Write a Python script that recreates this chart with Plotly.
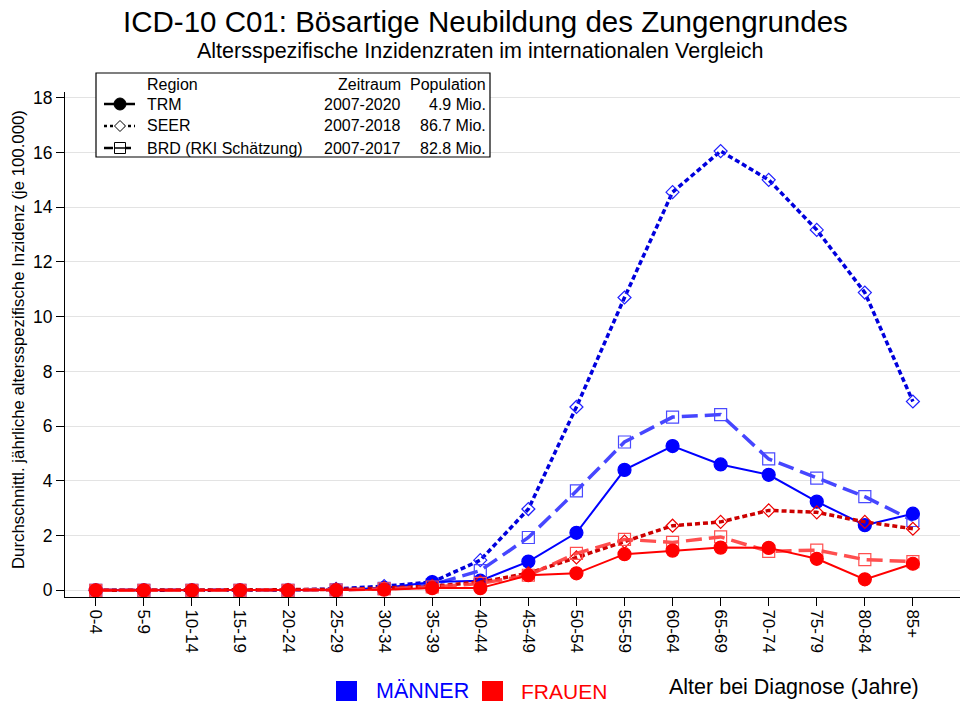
import plotly.graph_objects as go

categories = ["0-4", "5-9", "10-14", "15-19", "20-24", "25-29", "30-34", "35-39",
              "40-44", "45-49", "50-54", "55-59", "60-64", "65-69", "70-74",
              "75-79", "80-84", "85+"]

men_trm = [0, 0, 0, 0, 0, 0.02, 0.08, 0.3, 0.35, 1.05, 2.1, 4.4, 5.27, 4.6, 4.22, 3.24, 2.38, 2.8]
men_seer = [0, 0, 0, 0, 0.01, 0.05, 0.15, 0.3, 1.1, 2.97, 6.7, 10.7, 14.55, 16.05, 15.0, 13.17, 10.88, 6.9]
men_brd = [0, 0, 0, 0, 0, 0.02, 0.07, 0.2, 0.72, 1.93, 3.63, 5.42, 6.33, 6.42, 4.8, 4.1, 3.42, 2.55]
women_trm = [0, 0, 0, 0, 0, 0, 0.02, 0.08, 0.08, 0.55, 0.62, 1.32, 1.45, 1.56, 1.55, 1.15, 0.4, 0.97]
women_seer = [0, 0, 0, 0, 0.01, 0.03, 0.08, 0.15, 0.3, 0.62, 1.2, 1.78, 2.36, 2.5, 2.92, 2.85, 2.5, 2.25]
women_brd = [0, 0, 0, 0, 0, 0.01, 0.05, 0.12, 0.25, 0.55, 1.35, 1.86, 1.75, 1.95, 1.42, 1.47, 1.12, 1.05]

legend_rows = [("TRM", "2007-2020", "4.9 Mio."),
               ("SEER", "2007-2018", "86.7 Mio."),
               ("BRD (RKI Schätzung)", "2007-2017", "82.8 Mio.")]

FONT = "Liberation Sans, Arial, sans-serif"
W, H = 960, 704
L, R, T, B = 65, 0, 92, 107
PW, PH = W - L - R, H - T - B


def px(x):
    return (x - L) / PW


def py(y):
    return (H - B - y) / PH


xs = list(range(len(categories)))
fig = go.Figure()

SEER_DASH = "5px,3px"
BRD_DASH = "16px,7px"


def add(y, color, dash, width, symbol, size, mcolor=None, lw=1.2):
    fig.add_trace(go.Scatter(
        x=xs, y=y, mode="lines+markers",
        line=dict(color=color, width=width, dash=dash),
        marker=dict(symbol=symbol, size=size, color=mcolor or color,
                    line=dict(color=mcolor or color, width=lw)),
        showlegend=False, hoverinfo="skip"))


# men
add(men_seer, "#0000dd", SEER_DASH, 3.5, "diamond-open", 10, "#2020ff")
add(men_brd, "rgba(60,60,255,0.95)", BRD_DASH, 3.5, "square-open", 12, "#4a4aff")
add(men_trm, "#0000ff", "solid", 2, "circle", 13)
# women
add(women_seer, "#cc0000", SEER_DASH, 3.5, "diamond-open", 10, "#ee0000")
add(women_brd, "rgba(255,60,60,0.9)", BRD_DASH, 3.5, "square-open", 12, "#ff5050")
add(women_trm, "#ff0000", "solid", 2, "circle", 13)

shapes = []
annotations = []
LF = 16

# legend box
shapes.append(dict(type="rect", xref="paper", yref="paper",
                   x0=px(96), x1=px(490), y0=py(157), y1=py(73),
                   line=dict(color="black", width=1.2), fillcolor="white", layer="above"))
for txt, xx, anc in [("Region", 145, "left"), ("Zeitraum", 403, "right"), ("Population", 488, "right")]:
    annotations.append(dict(x=px(xx), y=py(84), xref="paper", yref="paper", text=txt,
                            showarrow=False, xanchor=anc, yanchor="middle",
                            font=dict(family=FONT, size=LF, color="black")))
row_y = [104, 126, 148]
line_dash = ["solid", "dot", "dash"]
for (name, per, pop), yy, dsh in zip(legend_rows, row_y, line_dash):
    for txt, xx, anc in [(name, 145, "left"), (per, 403, "right"), (pop, 488, "right")]:
        annotations.append(dict(x=px(xx), y=py(yy), xref="paper", yref="paper", text=txt,
                                showarrow=False, xanchor=anc, yanchor="middle",
                                font=dict(family=FONT, size=LF, color="black")))
    shapes.append(dict(type="line", xref="paper", yref="paper",
                       x0=px(104), x1=px(135), y0=py(yy), y1=py(yy),
                       line=dict(color="black", width=2.5, dash=dsh), layer="above"))

# legend symbols
cx = 120
shapes.append(dict(type="circle", xref="paper", yref="paper",
                   x0=px(cx - 6), x1=px(cx + 6), y0=py(104 + 6), y1=py(104 - 6),
                   fillcolor="black", line=dict(color="black", width=1), layer="above"))
dy = 126
d = 5.5
shapes.append(dict(type="path", xref="paper", yref="paper",
                   path=f"M {px(cx - d)} {py(dy)} L {px(cx)} {py(dy - d)} L {px(cx + d)} {py(dy)} L {px(cx)} {py(dy + d)} Z",
                   fillcolor="white", line=dict(color="black", width=1), layer="above"))
sy = 148
s = 5.5
shapes.append(dict(type="rect", xref="paper", yref="paper",
                   x0=px(cx - s), x1=px(cx + s), y0=py(sy + s), y1=py(sy - s),
                   fillcolor="white", line=dict(color="black", width=1), layer="above"))
shapes.append(dict(type="line", xref="paper", yref="paper",
                   x0=px(cx - s), x1=px(cx + s), y0=py(sy), y1=py(sy),
                   line=dict(color="black", width=1.5), layer="above"))

# bottom legend
shapes.append(dict(type="rect", xref="paper", yref="paper",
                   x0=px(336), x1=px(357), y0=py(701), y1=py(681),
                   fillcolor="#0000ff", line=dict(width=0)))
shapes.append(dict(type="rect", xref="paper", yref="paper",
                   x0=px(482), x1=px(503), y0=py(701), y1=py(681),
                   fillcolor="#ff0000", line=dict(width=0)))
annotations.append(dict(x=px(374), y=py(691), xref="paper", yref="paper", text="MÄNNER",
                        showarrow=False, xanchor="left", yanchor="middle",
                        font=dict(family=FONT, size=21.5, color="#0000ff")))
annotations.append(dict(x=px(519), y=py(691), xref="paper", yref="paper", text="FRAUEN",
                        showarrow=False, xanchor="left", yanchor="middle",
                        font=dict(family=FONT, size=21, color="#ff0000")))
annotations.append(dict(x=px(921), y=py(687), xref="paper", yref="paper",
                        text="Alter bei Diagnose (Jahre)",
                        showarrow=False, xanchor="right", yanchor="middle",
                        font=dict(family=FONT, size=21.5, color="black")))

# titles
annotations.append(dict(x=px(485), y=py(21), xref="paper", yref="paper",
                        text="ICD-10 C01: Bösartige Neubildung des Zungengrundes",
                        showarrow=False, xanchor="center", yanchor="middle",
                        font=dict(family=FONT, size=29.5, color="black")))
annotations.append(dict(x=px(480), y=py(51), xref="paper", yref="paper",
                        text="Altersspezifische Inzidenzraten im internationalen Vergleich",
                        showarrow=False, xanchor="center", yanchor="middle",
                        font=dict(family=FONT, size=21.5, color="black")))
# y title
annotations.append(dict(x=px(18), y=py(340), xref="paper", yref="paper",
                        text="Durchschnittl. jährliche altersspezifische Inzidenz (je 100.000)",
                        showarrow=False, xanchor="center", yanchor="middle", textangle=-90,
                        font=dict(family=FONT, size=16.8, color="black")))

fig.update_layout(
    width=W, height=H,
    margin=dict(l=L, r=R, t=T, b=B),
    paper_bgcolor="white", plot_bgcolor="white",
    font=dict(family=FONT, color="black"),
    shapes=shapes, annotations=annotations,
    xaxis=dict(range=[-0.64, 17.98], tickmode="array", tickvals=xs, ticktext=categories,
               tickangle=90, ticks="outside", ticklen=8, tickcolor="black",
               showline=True, linecolor="black", linewidth=1, showgrid=False,
               zeroline=False, tickfont=dict(family=FONT, size=17, color="black")),
    yaxis=dict(range=[-0.245, 18.21], tickvals=list(range(0, 19, 2)),
               ticks="outside", ticklen=8, tickcolor="black",
               showline=True, linecolor="black", linewidth=1,
               showgrid=True, gridcolor="#e3e3e3", gridwidth=1.2, zeroline=False,
               tickfont=dict(family=FONT, size=17.5, color="black")),
)

fig.write_html("out.html", config={"displayModeBar": False},
               post_script="document.body.style.margin='0';document.body.style.overflow='hidden';")
